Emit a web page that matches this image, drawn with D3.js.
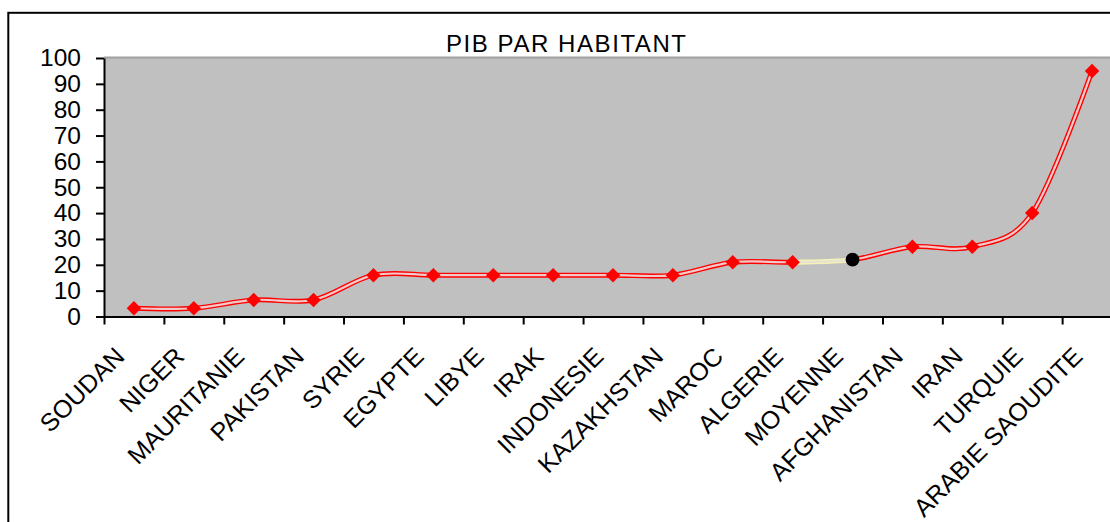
<!DOCTYPE html>
<html>
<head>
<meta charset="utf-8">
<script src="https://cdn.jsdelivr.net/npm/d3@7"></script>
<style>
  body { margin: 0; background: #fff; }
  text { font-family: "Liberation Sans", Arial, sans-serif; fill: #000; }
</style>
</head>
<body>
<div id="mainDiv"></div>
<script>
'use strict';

// dados
var pays = ['SOUDAN', 'NIGER', 'MAURITANIE', 'PAKISTAN', 'SYRIE', 'EGYPTE', 'LIBYE', 'IRAK',
            'INDONESIE', 'KAZAKHSTAN', 'MAROC', 'ALGERIE', 'MOYENNE', 'AFGHANISTAN', 'IRAN',
            'TURQUIE', 'ARABIE SAOUDITE'];
var pib = [3.2, 3.2, 6.4, 6.4, 16, 16, 16, 16, 16, 16, 21, 21, 22, 27, 27, 40, 95];
var yTicks = [0, 10, 20, 30, 40, 50, 60, 70, 80, 90, 100];
var titre = 'PIB PAR HABITANT';
var moyenne = 'MOYENNE';

var lineChart = {};

lineChart.w = 1110;
lineChart.h = 522;
lineChart.plot = {left: 104, top: 58, right: 1122, bottom: 316.5}; // área cinza (passa da janela à direita)

lineChart.xScale = d3.scaleBand().domain(pays).range([lineChart.plot.left, lineChart.plot.right]);
lineChart.yScale = d3.scaleLinear().domain([0, 100]).range([lineChart.plot.bottom, lineChart.plot.top]);

lineChart.cx = function(name) { return lineChart.xScale(name) + lineChart.xScale.bandwidth() / 2; };

lineChart.appendSvg = function(div)
{
    var svg = d3.select(div).append('svg')
        .attr('width', lineChart.w)
        .attr('height', lineChart.h);

    // moldura do gráfico (sai da janela à direita e embaixo)
    svg.append('rect')
        .attr('x', 8.3).attr('y', 12.8)
        .attr('width', 1300).attr('height', 700)
        .attr('fill', 'none')
        .attr('stroke', '#000')
        .attr('stroke-width', 2);

    return svg;
}

lineChart.appendPlotArea = function(svg)
{
    var p = lineChart.plot;
    svg.append('rect')
        .attr('x', p.left).attr('y', p.top)
        .attr('width', p.right - p.left).attr('height', p.bottom - p.top)
        .attr('fill', '#c0c0c0');

    svg.append('line')
        .attr('x1', p.left).attr('x2', p.right)
        .attr('y1', p.top - 0.5).attr('y2', p.top - 0.5)
        .attr('stroke', '#a0a0a0')
        .attr('stroke-width', 2);
}

lineChart.createAxis = function(svg)
{
    var p = lineChart.plot;

    var yAxis = d3.axisLeft(lineChart.yScale)
        .tickValues(yTicks)
        .tickSize(8)
        .tickPadding(15)
        .tickSizeOuter(0);

    var yg = svg.append('g')
        .attr('transform', 'translate(' + p.left + ',0)')
        .call(yAxis);
    yg.select('.domain').attr('stroke', '#000').attr('stroke-width', 2);
    yg.selectAll('.tick line').attr('stroke', '#000').attr('stroke-width', 2);
    yg.selectAll('.tick text')
        .attr('font-size', 24.5)
        .attr('font-family', '"Liberation Sans", Arial, sans-serif');

    // ticks do eixo x nas fronteiras das categorias
    var xb = d3.scaleLinear().domain([0, pays.length]).range([p.left, p.right]);
    var xAxis = d3.axisBottom(xb)
        .tickValues(pays.map(function(d, i) { return i; }))
        .tickFormat('')
        .tickSize(8)
        .tickSizeOuter(0);

    var xg = svg.append('g')
        .attr('transform', 'translate(0,' + p.bottom + ')')
        .call(xAxis);
    xg.select('.domain').attr('stroke', '#000').attr('stroke-width', 2);
    xg.selectAll('.tick line').attr('stroke', '#000').attr('stroke-width', 2);

    svg.selectAll('xlabels')
        .data(pays)
        .enter()
        .append('text')
        .attr('transform', function(d) { return 'translate(' + (lineChart.cx(d) - 8) + ',358) rotate(-45)'; })
        .attr('text-anchor', 'end')
        .attr('font-size', 25)
        .text(function(d) { return d; });
}

lineChart.appendLine = function(svg)
{
    var line = d3.line()
        .x(function(d, i) { return lineChart.cx(pays[i]); })
        .y(function(d) { return lineChart.yScale(d); })
        .curve(d3.curveCardinal.tension(0));

    var xa = lineChart.cx(pays[pays.indexOf(moyenne) - 1]);
    var xm = lineChart.cx(moyenne);

    var defs = svg.append('defs');
    var clipRed = defs.append('clipPath').attr('id', 'clipRed');
    clipRed.append('rect').attr('x', 0).attr('y', 0).attr('width', xa).attr('height', lineChart.h);
    clipRed.append('rect').attr('x', xm).attr('y', 0).attr('width', 1000).attr('height', lineChart.h);
    defs.append('clipPath').attr('id', 'clipYellow')
        .append('rect').attr('x', xa).attr('y', 0).attr('width', xm - xa).attr('height', lineChart.h);

    var red = svg.append('g').attr('clip-path', 'url(#clipRed)');
    red.append('path').attr('d', line(pib))
        .attr('fill', 'none').attr('stroke', '#ff0000').attr('stroke-width', 5);
    red.append('path').attr('d', line(pib))
        .attr('fill', 'none').attr('stroke', '#f2caca').attr('stroke-width', 2.2);

    var yel = svg.append('g').attr('clip-path', 'url(#clipYellow)');
    yel.append('path').attr('d', line(pib))
        .attr('fill', 'none').attr('stroke', '#f8f2b0').attr('stroke-width', 5);
    yel.append('path').attr('d', line(pib))
        .attr('fill', 'none').attr('stroke', '#e4e4d4').attr('stroke-width', 2.2);
}

lineChart.appendMarkers = function(svg)
{
    var diamond = d3.symbol().type(d3.symbolSquare).size(105);
    var circle = d3.symbol().type(d3.symbolCircle).size(150);

    svg.selectAll('mymarkers')
        .data(pays)
        .enter()
        .append('path')
        .attr('d', function(d) { return d === moyenne ? circle() : diamond(); })
        .attr('transform', function(d, i) {
            var t = 'translate(' + lineChart.cx(d) + ',' + lineChart.yScale(pib[i]) + ')';
            return d === moyenne ? t : t + ' rotate(45)';
        })
        .attr('fill', function(d) { return d === moyenne ? '#000' : '#ff0000'; });
}

lineChart.addTitle = function(svg)
{
    svg.append('text')
        .attr('x', 566)
        .attr('y', 52)
        .attr('text-anchor', 'middle')
        .attr('font-size', 24)
        .attr('textLength', 240)
        .attr('lengthAdjust', 'spacing')
        .text(titre);
}

lineChart.run = function()
{
    var svg = lineChart.appendSvg('#mainDiv');
    lineChart.appendPlotArea(svg);
    lineChart.createAxis(svg);
    lineChart.appendLine(svg);
    lineChart.appendMarkers(svg);
    lineChart.addTitle(svg);
}

window.onload = lineChart.run;
</script>
</body>
</html>
